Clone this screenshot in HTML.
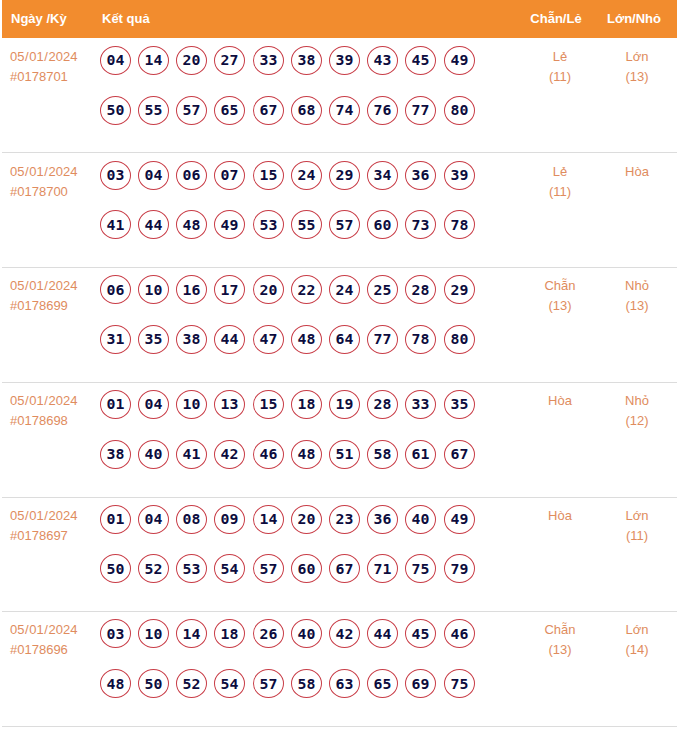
<!DOCTYPE html><html><head><meta charset="utf-8"><title>Kết quả</title><style>
*{margin:0;padding:0;box-sizing:border-box}
html,body{width:680px;height:737px;background:#fff;overflow:hidden}
body{position:relative;font-family:"Liberation Sans",Arial,sans-serif}
.hd{position:absolute;left:2px;top:0;width:675px;height:38px;background:#f28c2e}
.hd span{position:absolute;top:11px;color:#fff;font-weight:bold;font-size:13px;line-height:16px;white-space:nowrap}
.sep{position:absolute;left:2px;width:675px;height:1px;background:#dcdcdc}
.d{position:absolute;left:10px;color:#e08c5e;font-size:13px;line-height:20px;white-space:nowrap;letter-spacing:0px}
.d i{font-style:normal;margin:0 .6px}
.c{position:absolute;color:#e08c5e;font-size:13px;line-height:20px;text-align:center;white-space:nowrap;width:80px}
.b{position:absolute;width:31px;height:29px;border:1px solid #c83c46;border-radius:50%;font-family:"DejaVu Sans Mono",monospace;font-weight:bold;font-size:14px;color:#0c0c3e;text-align:center;line-height:27px;letter-spacing:0px}
.b b{display:inline-block;transform:scaleX(1.06);font-weight:bold}
</style></head><body>
<div class="hd"><span style="left:9px">Ngày /Kỳ</span><span style="left:100px">Kết quả</span><span style="left:514px;width:80px;text-align:center">Chẵn/Lẻ</span><span style="left:592px;width:80px;text-align:center">Lớn/Nhỏ</span></div>
<div class="d" style="top:47px">05<i>/</i>01<i>/</i>2024<br>#0178701</div><div class="b" style="left:100px;top:46px"><b>04</b></div><div class="b" style="left:138px;top:46px"><b>14</b></div><div class="b" style="left:176px;top:46px"><b>20</b></div><div class="b" style="left:214px;top:46px"><b>27</b></div><div class="b" style="left:253px;top:46px"><b>33</b></div><div class="b" style="left:291px;top:46px"><b>38</b></div><div class="b" style="left:329px;top:46px"><b>39</b></div><div class="b" style="left:367px;top:46px"><b>43</b></div><div class="b" style="left:405px;top:46px"><b>45</b></div><div class="b" style="left:444px;top:46px"><b>49</b></div><div class="b" style="left:100px;top:96px"><b>50</b></div><div class="b" style="left:138px;top:96px"><b>55</b></div><div class="b" style="left:176px;top:96px"><b>57</b></div><div class="b" style="left:214px;top:96px"><b>65</b></div><div class="b" style="left:253px;top:96px"><b>67</b></div><div class="b" style="left:291px;top:96px"><b>68</b></div><div class="b" style="left:329px;top:96px"><b>74</b></div><div class="b" style="left:367px;top:96px"><b>76</b></div><div class="b" style="left:405px;top:96px"><b>77</b></div><div class="b" style="left:444px;top:96px"><b>80</b></div><div class="c" style="left:520px;top:47px">Lẻ<br>(11)</div><div class="c" style="left:597px;top:47px">Lớn<br>(13)</div><div class="sep" style="top:152px"></div>
<div class="d" style="top:162px">05<i>/</i>01<i>/</i>2024<br>#0178700</div><div class="b" style="left:100px;top:161px"><b>03</b></div><div class="b" style="left:138px;top:161px"><b>04</b></div><div class="b" style="left:176px;top:161px"><b>06</b></div><div class="b" style="left:214px;top:161px"><b>07</b></div><div class="b" style="left:253px;top:161px"><b>15</b></div><div class="b" style="left:291px;top:161px"><b>24</b></div><div class="b" style="left:329px;top:161px"><b>29</b></div><div class="b" style="left:367px;top:161px"><b>34</b></div><div class="b" style="left:405px;top:161px"><b>36</b></div><div class="b" style="left:444px;top:161px"><b>39</b></div><div class="b" style="left:100px;top:210px;padding-top:1px"><b>41</b></div><div class="b" style="left:138px;top:210px;padding-top:1px"><b>44</b></div><div class="b" style="left:176px;top:210px;padding-top:1px"><b>48</b></div><div class="b" style="left:214px;top:210px;padding-top:1px"><b>49</b></div><div class="b" style="left:253px;top:210px;padding-top:1px"><b>53</b></div><div class="b" style="left:291px;top:210px;padding-top:1px"><b>55</b></div><div class="b" style="left:329px;top:210px;padding-top:1px"><b>57</b></div><div class="b" style="left:367px;top:210px;padding-top:1px"><b>60</b></div><div class="b" style="left:405px;top:210px;padding-top:1px"><b>73</b></div><div class="b" style="left:444px;top:210px;padding-top:1px"><b>78</b></div><div class="c" style="left:520px;top:162px">Lẻ<br>(11)</div><div class="c" style="left:597px;top:162px">Hòa</div><div class="sep" style="top:267px"></div>
<div class="d" style="top:276px">05<i>/</i>01<i>/</i>2024<br>#0178699</div><div class="b" style="left:100px;top:275px;padding-top:1px"><b>06</b></div><div class="b" style="left:138px;top:275px;padding-top:1px"><b>10</b></div><div class="b" style="left:176px;top:275px;padding-top:1px"><b>16</b></div><div class="b" style="left:214px;top:275px;padding-top:1px"><b>17</b></div><div class="b" style="left:253px;top:275px;padding-top:1px"><b>20</b></div><div class="b" style="left:291px;top:275px;padding-top:1px"><b>22</b></div><div class="b" style="left:329px;top:275px;padding-top:1px"><b>24</b></div><div class="b" style="left:367px;top:275px;padding-top:1px"><b>25</b></div><div class="b" style="left:405px;top:275px;padding-top:1px"><b>28</b></div><div class="b" style="left:444px;top:275px;padding-top:1px"><b>29</b></div><div class="b" style="left:100px;top:325px"><b>31</b></div><div class="b" style="left:138px;top:325px"><b>35</b></div><div class="b" style="left:176px;top:325px"><b>38</b></div><div class="b" style="left:214px;top:325px"><b>44</b></div><div class="b" style="left:253px;top:325px"><b>47</b></div><div class="b" style="left:291px;top:325px"><b>48</b></div><div class="b" style="left:329px;top:325px"><b>64</b></div><div class="b" style="left:367px;top:325px"><b>77</b></div><div class="b" style="left:405px;top:325px"><b>78</b></div><div class="b" style="left:444px;top:325px"><b>80</b></div><div class="c" style="left:520px;top:276px">Chẵn<br>(13)</div><div class="c" style="left:597px;top:276px">Nhỏ<br>(13)</div><div class="sep" style="top:382px"></div>
<div class="d" style="top:391px">05<i>/</i>01<i>/</i>2024<br>#0178698</div><div class="b" style="left:100px;top:390px"><b>01</b></div><div class="b" style="left:138px;top:390px"><b>04</b></div><div class="b" style="left:176px;top:390px"><b>10</b></div><div class="b" style="left:214px;top:390px"><b>13</b></div><div class="b" style="left:253px;top:390px"><b>15</b></div><div class="b" style="left:291px;top:390px"><b>18</b></div><div class="b" style="left:329px;top:390px"><b>19</b></div><div class="b" style="left:367px;top:390px"><b>28</b></div><div class="b" style="left:405px;top:390px"><b>33</b></div><div class="b" style="left:444px;top:390px"><b>35</b></div><div class="b" style="left:100px;top:440px"><b>38</b></div><div class="b" style="left:138px;top:440px"><b>40</b></div><div class="b" style="left:176px;top:440px"><b>41</b></div><div class="b" style="left:214px;top:440px"><b>42</b></div><div class="b" style="left:253px;top:440px"><b>46</b></div><div class="b" style="left:291px;top:440px"><b>48</b></div><div class="b" style="left:329px;top:440px"><b>51</b></div><div class="b" style="left:367px;top:440px"><b>58</b></div><div class="b" style="left:405px;top:440px"><b>61</b></div><div class="b" style="left:444px;top:440px"><b>67</b></div><div class="c" style="left:520px;top:391px">Hòa</div><div class="c" style="left:597px;top:391px">Nhỏ<br>(12)</div><div class="sep" style="top:497px"></div>
<div class="d" style="top:506px">05<i>/</i>01<i>/</i>2024<br>#0178697</div><div class="b" style="left:100px;top:505px"><b>01</b></div><div class="b" style="left:138px;top:505px"><b>04</b></div><div class="b" style="left:176px;top:505px"><b>08</b></div><div class="b" style="left:214px;top:505px"><b>09</b></div><div class="b" style="left:253px;top:505px"><b>14</b></div><div class="b" style="left:291px;top:505px"><b>20</b></div><div class="b" style="left:329px;top:505px"><b>23</b></div><div class="b" style="left:367px;top:505px"><b>36</b></div><div class="b" style="left:405px;top:505px"><b>40</b></div><div class="b" style="left:444px;top:505px"><b>49</b></div><div class="b" style="left:100px;top:554px;padding-top:1px"><b>50</b></div><div class="b" style="left:138px;top:554px;padding-top:1px"><b>52</b></div><div class="b" style="left:176px;top:554px;padding-top:1px"><b>53</b></div><div class="b" style="left:214px;top:554px;padding-top:1px"><b>54</b></div><div class="b" style="left:253px;top:554px;padding-top:1px"><b>57</b></div><div class="b" style="left:291px;top:554px;padding-top:1px"><b>60</b></div><div class="b" style="left:329px;top:554px;padding-top:1px"><b>67</b></div><div class="b" style="left:367px;top:554px;padding-top:1px"><b>71</b></div><div class="b" style="left:405px;top:554px;padding-top:1px"><b>75</b></div><div class="b" style="left:444px;top:554px;padding-top:1px"><b>79</b></div><div class="c" style="left:520px;top:506px">Hòa</div><div class="c" style="left:597px;top:506px">Lớn<br>(11)</div><div class="sep" style="top:611px"></div>
<div class="d" style="top:620px">05<i>/</i>01<i>/</i>2024<br>#0178696</div><div class="b" style="left:100px;top:619px;padding-top:1px"><b>03</b></div><div class="b" style="left:138px;top:619px;padding-top:1px"><b>10</b></div><div class="b" style="left:176px;top:619px;padding-top:1px"><b>14</b></div><div class="b" style="left:214px;top:619px;padding-top:1px"><b>18</b></div><div class="b" style="left:253px;top:619px;padding-top:1px"><b>26</b></div><div class="b" style="left:291px;top:619px;padding-top:1px"><b>40</b></div><div class="b" style="left:329px;top:619px;padding-top:1px"><b>42</b></div><div class="b" style="left:367px;top:619px;padding-top:1px"><b>44</b></div><div class="b" style="left:405px;top:619px;padding-top:1px"><b>45</b></div><div class="b" style="left:444px;top:619px;padding-top:1px"><b>46</b></div><div class="b" style="left:100px;top:669px;padding-top:1px"><b>48</b></div><div class="b" style="left:138px;top:669px;padding-top:1px"><b>50</b></div><div class="b" style="left:176px;top:669px;padding-top:1px"><b>52</b></div><div class="b" style="left:214px;top:669px;padding-top:1px"><b>54</b></div><div class="b" style="left:253px;top:669px;padding-top:1px"><b>57</b></div><div class="b" style="left:291px;top:669px;padding-top:1px"><b>58</b></div><div class="b" style="left:329px;top:669px;padding-top:1px"><b>63</b></div><div class="b" style="left:367px;top:669px;padding-top:1px"><b>65</b></div><div class="b" style="left:405px;top:669px;padding-top:1px"><b>69</b></div><div class="b" style="left:444px;top:669px;padding-top:1px"><b>75</b></div><div class="c" style="left:520px;top:620px">Chẵn<br>(13)</div><div class="c" style="left:597px;top:620px">Lớn<br>(14)</div><div class="sep" style="top:726px"></div>
</body></html>
